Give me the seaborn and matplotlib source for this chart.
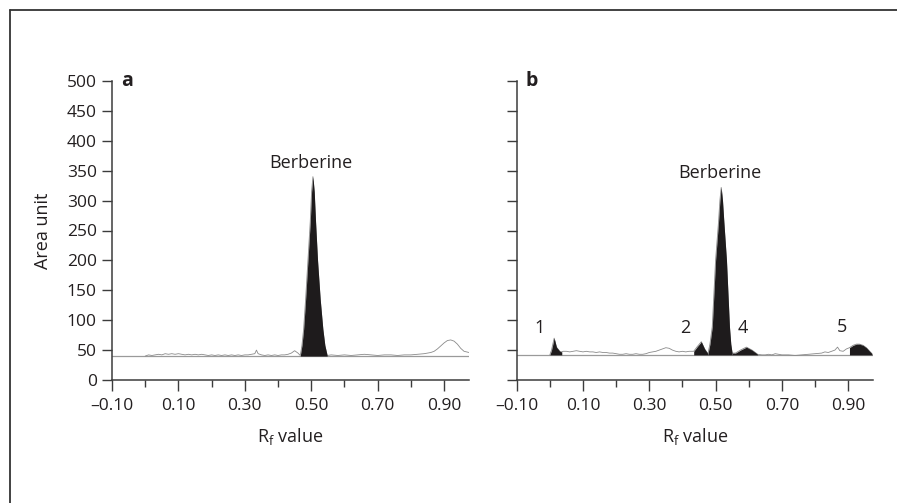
import numpy as np
import pandas as pd
import matplotlib
matplotlib.use("Agg")
import matplotlib.pyplot as plt
from matplotlib.lines import Line2D
from matplotlib.ticker import FixedLocator
import seaborn as sns

# Densitogram traces (Rf value, area unit)
rf_a = [0.00, 0.01, 0.02, 0.03, 0.04, 0.05, 0.06, 0.07, 0.08, 0.09, 0.10, 0.11, 0.12,
        0.13, 0.14, 0.15, 0.16, 0.17, 0.18, 0.19, 0.20, 0.21, 0.22, 0.23, 0.24, 0.25,
        0.26, 0.27, 0.28, 0.29, 0.30, 0.31, 0.32, 0.33, 0.335, 0.34, 0.35, 0.36, 0.37,
        0.38, 0.39, 0.40, 0.41, 0.42, 0.43, 0.44, 0.45, 0.46, 0.467, 0.472, 0.477, 0.483,
        0.490, 0.497, 0.501, 0.505, 0.509, 0.513, 0.519, 0.527, 0.535, 0.541, 0.548, 0.56,
        0.58, 0.60, 0.62, 0.64, 0.66, 0.68, 0.70, 0.72, 0.74, 0.76, 0.78, 0.80, 0.82,
        0.84, 0.85, 0.86, 0.87, 0.88, 0.89, 0.90, 0.91, 0.92, 0.93, 0.94, 0.95, 0.96, 0.975]
area_a = [40, 42, 41, 42, 43, 42, 44, 43, 44, 43, 44, 43, 42,
          43, 42, 43, 42, 43, 42, 41, 42, 41, 42, 41, 42, 41,
          42, 41, 42, 41, 42, 42, 43, 44, 50, 44, 42, 41, 42,
          41, 42, 41, 42, 42, 43, 45, 49, 45, 41, 58, 85, 135,
          200, 265, 315, 340, 315, 265, 200, 135, 85, 58, 41, 42,
          41, 42, 41, 42, 43, 42, 41, 42, 42, 41, 42, 42, 43,
          44, 45, 46, 48, 52, 57, 62, 66, 67, 65, 60, 53, 48, 46]

rf_b = [0.00, 0.005, 0.013, 0.02, 0.03, 0.036, 0.04, 0.05, 0.06, 0.07, 0.08, 0.09, 0.10,
        0.11, 0.12, 0.13, 0.14, 0.15, 0.16, 0.17, 0.18, 0.19, 0.20, 0.21, 0.22, 0.23,
        0.24, 0.25, 0.26, 0.27, 0.28, 0.29, 0.30, 0.31, 0.32, 0.33, 0.35, 0.36, 0.37,
        0.38, 0.39, 0.40, 0.41, 0.42, 0.434, 0.445, 0.457, 0.467, 0.477, 0.483, 0.490,
        0.500, 0.509, 0.513, 0.517, 0.521, 0.525, 0.533, 0.542, 0.546, 0.550, 0.56, 0.575,
        0.593, 0.61, 0.627, 0.64, 0.65, 0.66, 0.67, 0.68, 0.69, 0.70, 0.72, 0.74, 0.76,
        0.78, 0.80, 0.82, 0.83, 0.84, 0.85, 0.86, 0.868, 0.875, 0.885, 0.895, 0.904, 0.915,
        0.925, 0.934, 0.945, 0.955, 0.965, 0.972]
area_b = [42, 50, 70, 55, 48, 47, 48, 48, 47, 48, 49, 48, 47,
          48, 47, 47, 46, 47, 46, 46, 45, 45, 44, 43, 43, 44,
          43, 43, 44, 43, 43, 44, 46, 47, 48, 50, 54, 53, 50,
          48, 47, 48, 47, 48, 48, 56, 64, 52, 44, 60, 89,
          200, 265, 300, 322, 300, 265, 200, 89, 60, 45, 45, 50,
          55, 50, 43, 42, 42, 43, 42, 44, 43, 42, 42, 41, 42,
          43, 44, 45, 47, 46, 48, 50, 55, 49, 48, 52, 54, 58,
          60, 60, 58, 54, 48, 44]

baseline_a = 40
baseline_b = 42

# shaded peak windows (start, end)
peaks_a = [(0.467, 0.548)]
peaks_b = [(0.0, 0.036), (0.434, 0.477), (0.477, 0.550), (0.550, 0.627), (0.904, 0.972)]

# annotations: (text, rf, area)
labels_a = [("Berberine", 0.500, 363)]
labels_b = [("Berberine", 0.512, 346), ("1", -0.031, 87), ("2", 0.410, 87),
            ("4", 0.583, 87), ("5", 0.880, 89)]

x_major = [-0.10, 0.10, 0.30, 0.50, 0.70, 0.90]
x_major_text = ["\u20130.10", "0.10", "0.30", "0.50", "0.70", "0.90"]
x_minor = [0.0, 0.2, 0.4, 0.6, 0.8]
y_ticks = list(range(0, 501, 50))

sns.set_style("ticks")
plt.rcParams['font.family'] = ['Open Sans', 'DejaVu Sans']
plt.rcParams['mathtext.default'] = 'regular'

axis_col = '#3c3c3c'
text_col = '#231f20'

fig = plt.figure(figsize=(8.97, 5.03), dpi=100)
W, H = 897, 503
ax_a = fig.add_axes([112 / W, (H - 380) / H, 357 / W, 299 / H])
ax_b = fig.add_axes([516.7 / W, (H - 380) / H, 356.3 / W, 299 / H])

panels = [
    (ax_a, rf_a, area_a, baseline_a, peaks_a, labels_a, "a"),
    (ax_b, rf_b, area_b, baseline_b, peaks_b, labels_b, "b"),
]

for ax, rf, area, base, peaks, labels, tag in panels:
    df = pd.DataFrame({'rf': rf, 'area': area})
    ax.axhline(base, color='#9a9a9a', linewidth=0.9, zorder=1)
    sns.lineplot(data=df, x='rf', y='area', ax=ax, color='#8a8a8a',
                 linewidth=0.6, zorder=2)
    x = np.array(rf)
    y = np.array(area)
    for lo, hi in peaks:
        mask = (x >= lo - 1e-9) & (x <= hi + 1e-9)
        ax.fill_between(x, base, y, where=mask, color='#1e1b1c',
                        linewidth=0, zorder=3)
    for txt, lx, ly in labels:
        ax.text(lx, ly, txt, ha='center', va='center', fontsize=13, color=text_col)
    ax.text(-0.056, 500, tag, ha='center', va='center',
            fontsize=14, fontweight='bold', color=text_col, clip_on=False)

    ax.set_xlim(-0.10, 0.975)
    ax.set_ylim(0, 500)
    ax.xaxis.set_major_locator(FixedLocator(x_major))
    ax.xaxis.set_minor_locator(FixedLocator(x_minor))
    ax.set_xticklabels(x_major_text)
    ax.set_yticks(y_ticks)
    ax.tick_params(axis='x', which='major', length=8, width=1.0, color=axis_col,
                   labelsize=12.5, labelcolor=text_col, pad=5)
    ax.tick_params(axis='x', which='minor', length=5, width=1.0, color=axis_col)
    ax.tick_params(axis='y', length=7, width=1.0, color=axis_col,
                   labelsize=12.5, labelcolor=text_col, pad=4)
    sns.despine(ax=ax)
    for s in ('left', 'bottom'):
        ax.spines[s].set_color(axis_col)
        ax.spines[s].set_linewidth(1.1)
    ax.set_xlabel('R$_\\mathregular{f}$ value', fontsize=13, color=text_col)
    ax.xaxis.set_label_coords(0.5, -0.19)
    ax.xaxis.label.set_va('center')
    ax.set_ylabel('')
    ax.patch.set_alpha(0)

ax_a.set_ylabel('Area unit', fontsize=13, color=text_col)
ax_a.yaxis.set_label_coords(-0.193, 0.5)
ax_a.yaxis.label.set_va('center')
ax_b.set_yticklabels([])

# frame lines on top and left of the figure
fig.add_artist(Line2D([10 / W, 10 / W], [0, (H - 10) / H], color='#333333', linewidth=1.3))
fig.add_artist(Line2D([10 / W, 1], [(H - 10) / H, (H - 10) / H], color='#333333', linewidth=1.3))

fig.savefig('out.png', dpi=100)
